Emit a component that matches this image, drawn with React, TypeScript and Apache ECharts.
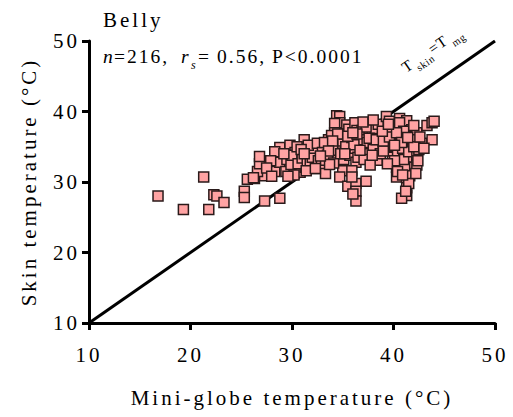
import React, { useEffect, useRef } from "react";
import * as echarts from "echarts";

// Mini-globe temperature (°C), skin temperature (°C) pairs, grouped by x range
const groupBelow29: number[][] = [
  [16.8, 28.0], [19.3, 26.1], [21.8, 26.1], [21.3, 30.7], [22.3, 28.2], [22.6, 28.0], [23.3, 27.1],
  [25.3, 28.7], [25.3, 27.8], [27.3, 27.3], [28.8, 27.7], [25.6, 30.4], [26.3, 30.5], [27.3, 30.9],
  [26.6, 31.5], [26.8, 32.6], [26.8, 33.6], [28.3, 31.5], [28.8, 32.8], [28.8, 34.9], [28.3, 34.3],
  [27.9, 33.0], [27.5, 32.0], [28.0, 30.8], [26.2, 30.6],
];
const group29to33: number[][] = [
  [29.8, 35.2], [29.4, 31.5], [30.3, 34.2], [31.2, 36.0], [30.8, 31.4], [31.3, 32.1], [32.4, 31.9],
  [31.9, 34.3], [32.8, 34.2], [29.5, 33.2], [29.9, 32.5], [30.0, 33.8], [30.6, 32.6], [30.2, 31.0],
  [31.0, 33.4], [31.5, 33.0], [31.8, 32.8], [32.0, 33.5], [32.2, 34.8], [32.6, 33.0], [29.2, 34.0],
  [30.5, 35.0], [31.6, 35.2], [32.5, 35.5], [32.9, 32.5], [29.6, 30.8], [30.9, 34.6], [31.4, 31.6],
];
const group33to36: number[][] = [
  [33.3, 33.1], [33.3, 31.2], [34.4, 33.5], [34.4, 35.5], [34.4, 38.3], [34.4, 39.4], [34.7, 39.3],
  [34.7, 38.4], [34.2, 38.3], [34.9, 37.0], [34.2, 37.0], [35.4, 38.1], [34.3, 35.5], [33.4, 34.9],
  [33.0, 34.2], [34.5, 33.3], [32.3, 31.9], [35.4, 34.8], [35.0, 31.6], [34.7, 30.7], [35.5, 29.4],
  [33.6, 36.0], [33.8, 35.2], [33.5, 33.8], [34.0, 34.5], [34.6, 36.2], [35.0, 35.8], [35.2, 36.8],
  [35.6, 37.5], [35.8, 35.5], [33.9, 36.6], [34.1, 32.7], [35.1, 33.2], [35.7, 33.8], [33.2, 35.6],
  [34.8, 34.0], [35.3, 35.0], [35.9, 36.3], [33.7, 32.5],
];
const group36to39: number[][] = [
  [36.2, 38.4], [36.4, 37.3], [36.9, 37.3], [36.2, 36.2], [36.2, 34.8], [36.9, 34.2], [36.3, 32.8],
  [35.9, 31.6], [36.3, 29.8], [37.3, 30.1], [36.3, 28.7], [36.3, 27.3], [37.8, 35.9], [38.4, 36.3],
  [38.4, 34.2], [38.4, 33.1], [38.9, 37.9], [35.9, 30.7], [36.0, 28.3], [36.6, 35.5], [37.0, 36.5],
  [37.2, 35.0], [37.5, 34.0], [37.6, 37.0], [37.9, 36.8], [38.1, 35.3], [38.6, 35.0], [38.8, 36.6],
  [36.5, 33.5], [37.1, 33.2], [37.7, 32.4], [38.2, 37.6], [36.8, 36.0], [37.4, 35.6], [38.0, 34.6],
  [38.7, 34.0], [36.1, 35.3], [37.3, 37.8], [38.5, 38.2],
];
const group39to42: number[][] = [
  [39.3, 39.3], [39.6, 38.6], [39.4, 36.9], [39.9, 36.0], [39.9, 34.8], [39.9, 33.5], [40.3, 32.1],
  [40.3, 30.7], [40.6, 39.0], [40.8, 37.7], [41.3, 38.7], [41.3, 36.9], [41.3, 35.9], [41.8, 37.4],
  [41.8, 35.2], [41.3, 33.5], [41.6, 32.1], [41.1, 32.1], [41.3, 30.4], [41.3, 29.2], [41.3, 28.1],
  [40.8, 27.7], [39.2, 35.5], [39.5, 35.0], [39.0, 34.4], [39.7, 37.4], [40.0, 38.0], [40.2, 36.5],
  [40.5, 35.4], [40.4, 34.2], [40.7, 36.2], [40.9, 34.8], [41.0, 33.2], [40.1, 33.0], [39.4, 32.6],
  [41.5, 34.3], [41.7, 36.5], [40.6, 38.4], [39.8, 37.0], [41.0, 37.2], [39.1, 36.2], [40.4, 31.5],
  [41.6, 30.9], [41.5, 29.8], [41.2, 28.7], [40.9, 31.0],
];
const groupAbove42: number[][] = [
  [42.3, 37.0], [42.3, 33.8], [42.3, 32.4], [42.8, 35.5], [43.3, 38.0], [43.8, 38.4], [43.8, 36.0],
  [42.1, 36.0], [42.5, 34.6], [42.0, 35.0], [42.6, 36.4], [42.2, 31.2], [42.0, 38.0], [42.4, 33.0],
  [43.0, 34.8], [44.0, 38.6],
];
const groupCore: number[][] = [
  [34.5, 36.8], [35.5, 36.5], [36.4, 36.8], [37.6, 36.2], [38.3, 36.0], [39.0, 35.8], [39.6, 36.4],
  [40.3, 37.0], [40.8, 35.6], [41.4, 36.3], [36.7, 34.5], [37.9, 33.8], [35.2, 34.0], [34.0, 35.8],
  [36.0, 37.0], [38.9, 37.2], [39.5, 38.2], [40.1, 35.2], [33.6, 34.4], [32.8, 33.7], [31.2, 34.0],
  [37.0, 38.5], [38.0, 38.8],
];

const identityLine: number[][] = [[10, 10], [50, 50]];
const tickValues = { min: 10, max: 50, interval: 10 };

const FONT = "'Liberation Serif', 'Times New Roman', serif";

const GRID = { left: 89, right: 18, top: 41, bottom: 94 };
const W = 513;
const H = 417;

const CSS = `
.resk-chart { letter-spacing: 3px; }
.resk-chart text[style*="19.5px"] { letter-spacing: 2px !important; }
.resk-chart text[style*="15.5px"], .resk-chart text[style*="10.5px"] { letter-spacing: 0.6px !important; }
`;

export default function App() {
  const ref = useRef<HTMLDivElement>(null);
  useEffect(() => {
    if (!ref.current) return;
    const chart = echarts.init(ref.current, undefined, { renderer: "svg" });
    const points = [
      ...groupBelow29, ...group29to33, ...group33to36, ...group36to39,
      ...group39to42, ...groupAbove42, ...groupCore,
    ];
    const axisCommon = {
      type: "value" as const,
      min: tickValues.min,
      max: tickValues.max,
      interval: tickValues.interval,
      nameLocation: "middle" as const,
      nameTextStyle: { fontSize: 21, color: "#000", fontFamily: FONT },
      axisLine: { show: true, lineStyle: { color: "#000", width: 3 } },
      axisTick: { show: true, inside: false, length: 7, lineStyle: { color: "#000", width: 3 } },
      splitLine: { show: false },
    };
    chart.setOption({
      animation: false,
      grid: { ...GRID, containLabel: false },
      xAxis: {
        ...axisCommon,
        name: "Mini-globe temperature (°C)",
        nameGap: 64,
        axisLabel: { fontSize: 21, color: "#000", fontFamily: FONT, margin: 21 },
      },
      yAxis: {
        ...axisCommon,
        name: "Skin temperature (°C)",
        nameGap: 50,
        axisLabel: { fontSize: 21, color: "#000", fontFamily: FONT, margin: 9 },
      },
      series: [
        {
          type: "line",
          data: identityLine,
          symbol: "none",
          lineStyle: { color: "#000", width: 3 },
          z: 1,
          silent: true,
          markLine: {
            silent: true,
            symbol: "none",
            lineStyle: { color: "rgba(0,0,0,0)", width: 1, type: "solid", opacity: 1 },
            data: [[{ coord: identityLine[0] }, { coord: identityLine[1] }]],
            label: {
              show: true,
              position: "insideEndTop",
              distance: [20, 16],
              formatter: "{t|T}{s|skin}{t|=T}{s|mg}",
              color: "#000",
              fontFamily: FONT,
              rich: {
                t: { fontSize: 15.5, fontFamily: FONT, color: "#000", lineHeight: 22, verticalAlign: "top" },
                s: { fontSize: 10.5, fontFamily: FONT, color: "#000", lineHeight: 22, verticalAlign: "bottom", padding: [0, 2, 0, 4] },
              },
            },
          },
        },
        {
          type: "scatter",
          data: points,
          symbol: "rect",
          symbolSize: 10,
          itemStyle: { color: "#FFA3A3", borderColor: "#2a1a1a", borderWidth: 1.5, opacity: 1 },
          z: 2,
        },
      ],
      graphic: [
        { type: "text", left: 103, top: 9, style: { text: "Belly", font: `21px ${FONT}`, fill: "#000" } },
        { type: "text", x: 103, y: 46, style: { text: "n", font: `italic 19.5px ${FONT}`, fill: "#000" } },
        { type: "text", x: 114, y: 46, style: { text: "=216,", font: `19.5px ${FONT}`, fill: "#000" } },
        { type: "text", x: 181, y: 46, style: { text: "r", font: `italic 19.5px ${FONT}`, fill: "#000" } },
        { type: "text", x: 191, y: 59, style: { text: "s", font: `italic 12px ${FONT}`, fill: "#000" } },
        { type: "text", x: 198, y: 46, style: { text: "=", font: `19.5px ${FONT}`, fill: "#000" } },
        { type: "text", x: 217, y: 46, style: { text: "0.56,", font: `19.5px ${FONT}`, fill: "#000" } },
        { type: "text", x: 272, y: 46, style: { text: "P<0.0001", font: `19.5px ${FONT}`, fill: "#000" } },
      ],
    });
    return () => chart.dispose();
  }, []);
  return (
    <>
      <style>{CSS}</style>
      <div
        ref={ref}
        className="resk-chart"
        style={{ position: "fixed", left: 0, top: 0, width: W, height: H, background: "#fff" }}
      />
    </>
  );
}
